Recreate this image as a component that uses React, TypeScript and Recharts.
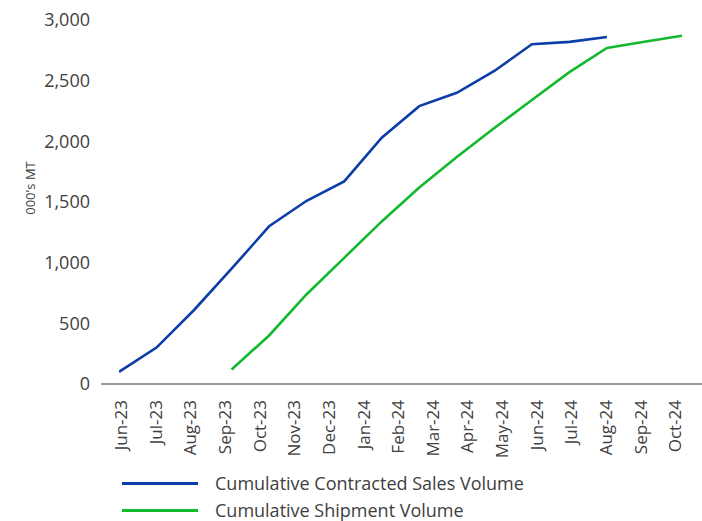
import React from "react";
import { LineChart, Line, XAxis, YAxis, Legend } from "recharts";

// Tick labels shown under the axis
const axisLabels = [
  "Jun-23", "Jul-23", "Aug-23", "Sep-23", "Oct-23", "Nov-23", "Dec-23", "Jan-24",
  "Feb-24", "Mar-24", "Apr-24", "May-24", "Jun-24", "Jul-24", "Aug-24", "Sep-24", "Oct-24",
];

// Period index of each plotted point (16 plotted periods)
const periodIndex = [0, 1, 2, 3, 4, 5, 6, 7, 8, 9, 10, 11, 12, 13, 14, 15, 16];

const contractedSales = [
  100, 300, 610, 950, 1300, 1510, 1670, 2030, 2290, 2400, 2580, 2800, 2820, 2860, null, null, null,
];

const shipmentVolume = [
  null, null, null, 120, 400, 740, 1040, 1340, 1620, 1870, 2110, 2340, 2570, 2770, 2820, 2870, null,
];

const yTicks = [0, 500, 1000, 1500, 2000, 2500, 3000];

const data = axisLabels.map((m, i) => ({
  month: m,
  idx: periodIndex[i],
  contracted: contractedSales[i],
  shipment: shipmentVolume[i],
}));

const FONT = "'Open Sans', 'Noto Sans', sans-serif";
const TEXT = "#404040";
const BLUE = "#0b3ea6";
const GREEN = "#12b82e";

const RotTick = (props: any) => {
  const { x, y, payload } = props;
  return (
    <g transform={`translate(${x},${y})`}>
      <text
        x={0}
        y={0}
        dy="0.36em"
        textAnchor="end"
        transform="rotate(-90)"
        fontFamily={FONT}
        fontSize={17}
        fill={TEXT}
      >
        {payload.value}
      </text>
    </g>
  );
};

const LegendContent = (props: any) => {
  const { payload } = props;
  return (
    <div style={{ fontFamily: FONT }}>
      {(payload || []).map((entry: any) => (
        <div
          key={entry.value}
          style={{ display: "flex", alignItems: "center", height: 27 }}
        >
          <svg width={215} height={27} style={{ display: "block" }}>
            <line x1={122} x2={198} y1={13.5} y2={13.5} stroke={entry.color} strokeWidth={2.8} />
          </svg>
          <span style={{ fontSize: 18, color: TEXT, lineHeight: "27px", whiteSpace: "nowrap" }}>
            {entry.value}
          </span>
        </div>
      ))}
    </div>
  );
};

export default function App() {
  return (
    <div style={{ position: "absolute", left: 0, top: 0, background: "#fff" }}>
      <LineChart
        width={702}
        height={521}
        data={data}
        margin={{ top: 20, right: 0, left: 0, bottom: 0 }}
      >
        <XAxis
          xAxisId="pts"
          type="number"
          dataKey="idx"
          domain={[0, 15]}
          allowDataOverflow
          hide
          padding={{ left: 18, right: 20 }}
        />
        <XAxis
          xAxisId="lbl"
          dataKey="month"
          interval={0}
          padding={{ left: 20, right: 27 }}
          height={137}
          tickLine={false}
          tickSize={0}
          tickMargin={16}
          axisLine={{ stroke: "#7a7a7a", strokeWidth: 1.5 }}
          tick={<RotTick />}
        />
        <YAxis
          width={101}
          domain={[0, 3000]}
          ticks={yTicks}
          interval={0}
          axisLine={false}
          tickLine={false}
          tickSize={0}
          tickMargin={11}
          tickFormatter={(v: number) => v.toLocaleString("en-US")}
          tick={{ fontFamily: FONT, fontSize: 18, fill: TEXT }}
          label={{
            value: "000's MT",
            angle: -90,
            position: "center",
            dx: -20,
            dy: -14,
            style: { fontFamily: FONT, fontSize: 13, fill: TEXT },
          }}
        />
        <Line
          xAxisId="pts"
          type="linear"
          dataKey="contracted"
          name="Cumulative Contracted Sales Volume"
          stroke={BLUE}
          strokeWidth={2.6}
          dot={false}
          activeDot={false}
          isAnimationActive={false}
        />
        <Line
          xAxisId="pts"
          type="linear"
          dataKey="shipment"
          name="Cumulative Shipment Volume"
          stroke={GREEN}
          strokeWidth={2.6}
          dot={false}
          activeDot={false}
          isAnimationActive={false}
        />
        <Legend
          layout="horizontal"
          verticalAlign="middle"
          align="center"
          content={<LegendContent />}
          wrapperStyle={{ left: 0, top: 470, width: 702, height: 54 }}
        />
      </LineChart>
    </div>
  );
}
